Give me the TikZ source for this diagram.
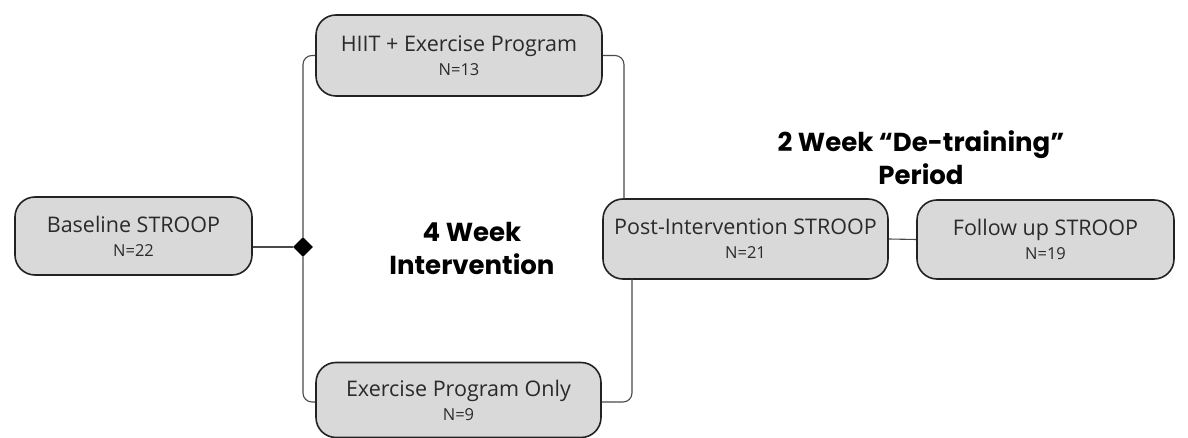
\documentclass[tikz,border=0pt]{standalone}
\usepackage{fontspec}
\setmainfont{Open Sans}
\newfontfamily\boldlab{Poppins}[UprightFont=* Bold]
\usetikzlibrary{shapes.geometric}
\definecolor{boxfill}{HTML}{D9D9D9}
\definecolor{boxline}{HTML}{222222}
\definecolor{conn}{HTML}{4A4A4A}
\definecolor{txt}{HTML}{2A2A2A}
\tikzset{
  stagebox/.style={draw=boxline, line width=1.6pt, fill=boxfill, rounded corners=20pt,
    align=center, inner sep=0pt, text=txt, font=\fontsize{21.5}{24}\selectfont},
  connline/.style={draw=conn, line width=1.1pt, rounded corners=9pt},
  periodlab/.style={align=center, text=black, font=\boldlab\fontsize{26}{33}\selectfont},
}
\newcommand{\stagetext}[2]{#1\\{\fontsize{16.5}{24}\selectfont #2}}
\begin{document}
\begin{tikzpicture}[x=1pt,y=-1pt]
\useasboundingbox (0,0) rectangle (1188,438);
\node[stagebox, minimum width=237pt, minimum height=78pt] (base) at (133.5,236) {\stagetext{Baseline STROOP}{N=22}};
\node[stagebox, minimum width=286pt, minimum height=81pt] (hiit) at (459,55.5) {\stagetext{HIIT + Exercise Program}{N=13}};
\node[stagebox, minimum width=285pt, minimum height=75pt] (exo) at (458.5,400) {\stagetext{Exercise Program Only}{N=9}};
\node[stagebox, minimum width=285pt, minimum height=80pt] (post) at (745.5,239) {\stagetext{Post-Intervention STROOP}{N=21}};
\node[stagebox, minimum width=257pt, minimum height=79pt] (follow) at (1045.5,239.5) {\stagetext{Follow up STROOP}{N=19}};
\node[diamond, fill=black, minimum width=20pt, minimum height=20pt, inner sep=0pt] (dia) at (303,247) {};
\coordinate (ptop) at (624,199);
\coordinate (pbot) at (632,279);
\draw[connline] (base.east |- dia) -- (dia.west);
\draw[connline] (dia.north) |- (hiit.west);
\draw[connline] (dia.south) |- (exo.west |- 0,402);
\draw[connline] (hiit.east) -| (ptop);
\draw[connline] (exo.east |- 0,402) -| (pbot);
\draw[connline] (post.east) -- (follow.west);
\node[periodlab] (four) at (472,248) {4 Week\\Intervention};
\node[periodlab] (two) at (921,158) {2 Week “De-training”\\Period};
\end{tikzpicture}
\end{document}
